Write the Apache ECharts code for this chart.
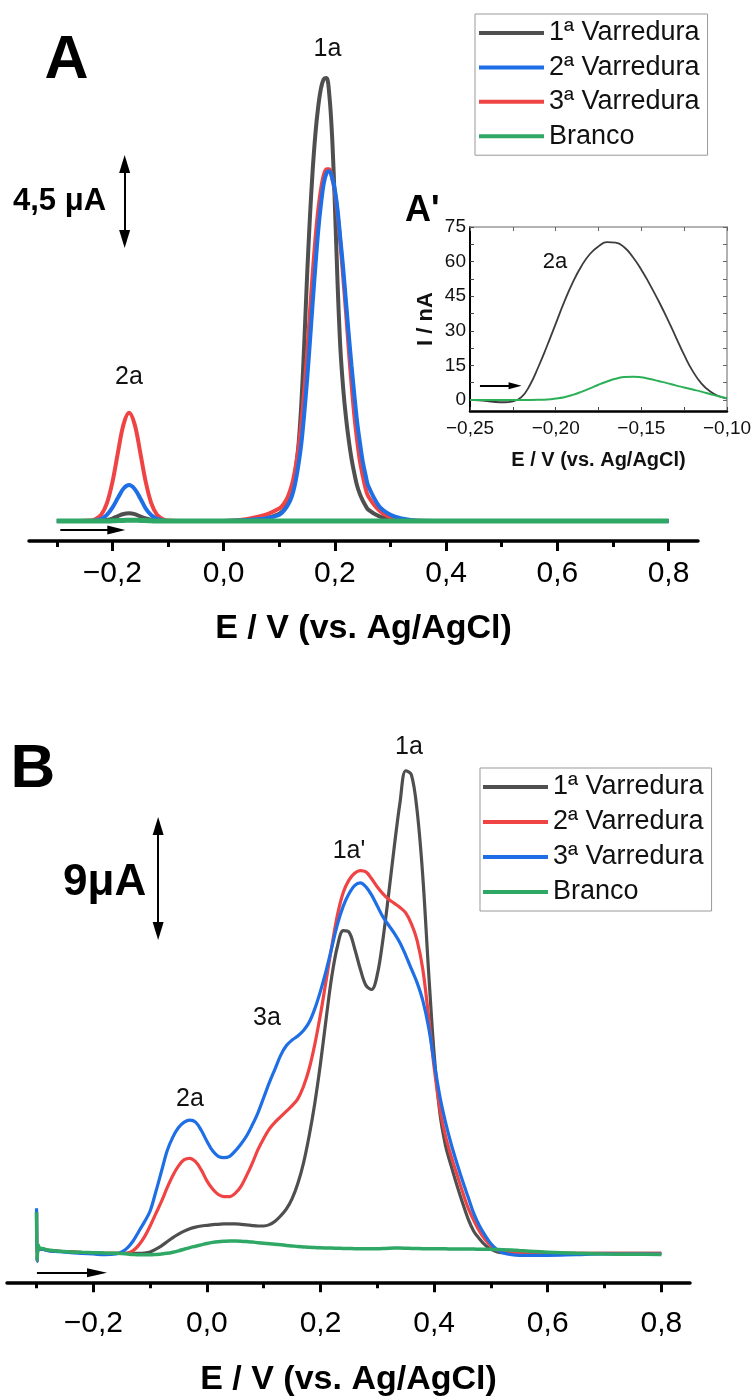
<!DOCTYPE html>
<html>
<head>
<meta charset="utf-8">
<script src="https://cdn.jsdelivr.net/npm/echarts@6/dist/echarts.min.js"></script>
<style>
html,body{margin:0;padding:0;background:#fff;}
#chart{width:756px;height:1398px;}
</style>
</head>
<body>
<div id="chart"></div>
<script>
// ---------------- DATA ----------------
// Panel A (current in uA, potential in V)
const xA = [-0.30,-0.28,-0.26,-0.24,
 -0.23,-0.22,-0.21,-0.20,-0.19,-0.18,-0.17,-0.16,-0.15,-0.14,-0.13,-0.12,-0.11,-0.10,
 -0.08,-0.05,0.00,0.03,0.06,0.08,
 0.100,0.105,0.110,0.115,0.120,0.125,0.130,0.135,0.140,0.145,0.150,0.155,0.160,0.165,0.170,0.175,0.180,
 0.185,0.190,0.195,0.200,0.205,0.210,0.215,0.220,0.225,0.230,0.235,0.240,0.245,0.250,0.255,0.260,
 0.28,0.30,0.32,0.34,0.36,0.40,0.50,0.60,0.70,0.80];
const scan1A = [0,0,0,0,
 0.01,0.02,0.05,0.12,0.24,0.34,0.37,0.33,0.22,0.12,0.05,0.02,0.01,0,
 0,0,0,0.02,0.06,0.15,
 0.35,0.45,0.6,0.85,1.2,1.75,2.6,3.8,5.8,8.6,11.8,14.6,16.9,18.7,20.0,20.9,21.35,
 21.4,20.6,18.6,15.3,11.4,8.3,6.4,5.0,3.9,3.0,2.3,1.7,1.3,1.0,0.75,0.55,
 0.22,0.09,0.03,0,0,0,0,0,0,0];
const scan2A = [0,0,0,0,
 0.03,0.1,0.3,0.65,1.12,1.57,1.74,1.55,1.1,0.6,0.28,0.1,0.03,0,
 0,0,0,0.02,0.08,0.15,
 0.3,0.4,0.55,0.75,1.0,1.4,2.0,2.8,3.8,5.2,6.8,8.6,10.5,12.3,14.0,15.3,16.3,
 16.8,16.9,16.6,16.0,15.0,13.6,12.2,10.6,9.0,7.5,6.1,4.8,3.8,2.9,2.25,1.7,
 0.7,0.3,0.12,0.04,0.01,0,0,0,0,0];
const scan3A = [0,0,0,0.02,
 0.1,0.31,0.85,1.88,3.32,4.67,5.23,4.67,3.32,1.88,0.85,0.31,0.1,0.02,
 0,0,0,0.05,0.2,0.35,
 0.6,0.72,0.9,1.15,1.5,2.0,2.7,3.6,4.8,6.3,8.0,10.0,11.9,13.6,15.0,16.0,16.7,
 17.0,17.0,16.6,15.9,14.8,13.4,11.8,10.1,8.3,6.6,5.1,3.9,2.9,2.2,1.6,1.2,
 0.5,0.18,0.06,0.02,0,0,0,0,0,0];
const blankA = [0,0,0,0,
 0,0,0,0.01,0.02,0.03,0.04,0.04,0.03,0.02,0.01,0,0,0,
 0,0,0,0,0,0,
 0,0,0,0,0,0,0,0,0,0,0,0,0,0,0,0,0,
 0,0,0,0,0,0,0,0,0,0,0,0,0,0,0,0,
 0,0,0,0,0,0,0,0,0,0];

// Inset A' (current in nA)
const xIn = [-0.250,-0.245,-0.240,-0.235,-0.230,-0.225,-0.220,-0.215,-0.210,-0.205,-0.200,-0.195,-0.190,-0.185,-0.180,-0.175,-0.170,-0.165,-0.160,-0.155,-0.150,-0.145,-0.140,-0.135,-0.130,-0.125,-0.120,-0.115,-0.110,-0.105,-0.100];
const scan1In = [0,-0.2,-0.5,-0.9,-1.0,-0.6,1.2,6.5,14.5,23.5,33,42.5,51,58,63.3,66.6,68.4,68.2,66.2,62,56.5,50,43,35.5,27.5,19.5,12.5,7.2,3.8,1.7,0.6];
const blankIn = [0,0,0,0,0,0,0,0,0.05,0.2,0.6,1.2,2.2,3.5,5.0,6.6,8.0,9.2,9.9,10.1,9.8,9.1,8.2,7.3,6.3,5.4,4.5,3.6,2.6,1.6,0.7];

// Panel B (current in uA)
const xB = [-0.300,-0.299,-0.297,-0.294,-0.29,-0.28,-0.26,-0.24,-0.22,-0.20,-0.18,-0.16,
 -0.15,-0.14,-0.13,-0.12,-0.11,-0.10,-0.09,-0.08,-0.07,-0.06,-0.05,-0.04,-0.03,-0.02,-0.01,
 0.00,0.01,0.02,0.03,0.04,0.05,0.06,0.07,0.08,0.09,0.10,0.11,0.12,0.13,0.14,0.15,0.16,0.17,0.18,0.19,
 0.20,0.21,0.22,0.23,0.24,0.25,0.26,0.27,0.28,0.29,0.30,0.31,0.32,0.33,0.34,0.35,0.36,0.37,0.38,0.39,
 0.40,0.41,0.42,0.43,0.44,0.45,0.46,0.47,0.48,0.49,0.50,0.51,0.52,
 0.55,0.60,0.65,0.70,0.75,0.80];
const scan1B = [3.0,-0.5,0.5,0.3,0.3,0.22,0.15,0.1,0.05,0.02,0,0,
 0,0,0,0,0.02,0.1,0.3,0.55,0.85,1.15,1.4,1.62,1.8,1.92,2.0,
 2.05,2.1,2.12,2.15,2.15,2.15,2.12,2.08,2.03,2.0,2.0,2.1,2.35,2.75,3.25,4.0,5.1,6.6,8.6,11.0,
 13.9,17.2,20.3,22.5,23.6,23.5,22.3,20.8,19.6,19.3,20.4,23.0,26.3,29.8,33.0,35.3,35.0,32.4,27.6,20.8,
 14.6,10.3,7.9,6.4,5.0,3.7,2.5,1.6,1.05,0.6,0.3,0.12,0.05,
 0,0,0,0,0,0];
const scan2B = [3.0,-0.6,0.5,0.3,0.3,0.22,0.15,0.1,0.05,0.02,0,0,
 0,0.02,0.2,0.6,1.2,2.0,2.9,3.8,4.8,5.7,6.4,6.85,6.95,6.7,6.1,
 5.3,4.7,4.3,4.15,4.15,4.4,4.9,5.7,6.6,7.6,8.4,9.1,9.6,10.0,10.4,10.8,11.3,12.2,13.5,15.3,
 17.5,20.0,22.5,24.8,26.4,27.3,27.8,28.0,27.9,27.4,26.8,26.3,25.9,25.6,25.3,24.9,24.1,22.9,20.8,17.4,
 13.6,10.6,8.6,7.1,5.8,4.5,3.3,2.4,1.6,1.0,0.55,0.25,0.1,
 0,0,0,0,0,0];
const scan3B = [3.3,-0.6,0.5,0.3,0.3,0.2,0.12,0.05,0,-0.05,-0.1,-0.05,
 0.1,0.4,0.9,1.6,2.3,3.1,4.5,6.0,7.5,8.5,9.2,9.6,9.75,9.6,9.0,
 8.2,7.5,7.1,7.0,7.1,7.5,8.0,8.6,9.4,10.3,11.4,12.5,13.5,14.5,15.2,15.6,15.9,16.3,16.9,17.9,
 19.2,20.7,22.4,24.1,25.4,26.3,26.9,27.1,26.8,26.2,25.4,24.6,24.0,23.4,22.7,21.8,20.8,19.8,18.5,16.6,
 14.0,11.5,9.6,8.0,6.6,5.3,4.1,2.9,2.0,1.3,0.7,0.3,0.05,
 -0.15,-0.15,-0.1,-0.05,-0.05,-0.05];
const blankB = [3.0,-0.5,0.6,0.35,0.35,0.24,0.15,0.1,0.07,0.05,0.02,0,
 -0.02,-0.05,-0.08,-0.1,-0.1,-0.1,-0.08,-0.05,0,0.08,0.18,0.3,0.42,0.52,0.62,
 0.72,0.8,0.85,0.88,0.9,0.9,0.89,0.86,0.82,0.78,0.74,0.7,0.66,0.62,0.58,0.54,0.5,0.47,0.44,0.42,
 0.4,0.39,0.38,0.37,0.36,0.35,0.34,0.33,0.33,0.33,0.34,0.35,0.37,0.38,0.38,0.37,0.36,0.35,0.34,0.34,
 0.33,0.33,0.33,0.32,0.32,0.32,0.31,0.31,0.3,0.3,0.29,0.28,0.27,
 0.2,0.08,0,-0.05,-0.07,-0.08];

// Tick values / labels
const xMajorTicks = [-0.2,0,0.2,0.4,0.6,0.8];
const xMinorTicks = [-0.3,-0.1,0.1,0.3,0.5,0.7];
const inXLabels = [-0.25,-0.2,-0.15,-0.1];
const inXTicks = [-0.25,-0.225,-0.2,-0.175,-0.15,-0.125,-0.1];
const inYLabels = [0,15,30,45,60,75];
const inYTicks = [0,7.5,15,22.5,30,37.5,45,52.5,60,67.5,75];

const seriesNames = ['1ª Varredura','2ª Varredura','3ª Varredura','Branco'];

// ---------------- CHECK ----------------
[[xA,scan1A,scan2A,scan3A,blankA],[xIn,scan1In,blankIn],[xB,scan1B,scan2B,scan3B,blankB]].forEach(g=>{
  g.forEach(a=>{ if(a.length!==g[0].length) throw new Error('length mismatch '+a.length+' vs '+g[0].length); });
});

// ---------------- STYLE ----------------
const C_BLACK = '#4f4f4f', C_BLUE = '#1e6fe6', C_RED = '#f04444', C_GREEN = '#2fa866';
const FONT = '"Liberation Sans", Arial, sans-serif';
const fmt1 = v => (v < 0 ? '\u2212' : '') + Math.abs(v).toFixed(1).replace('.', ',');
const fmt2 = v => (v < 0 ? '\u2212' : '') + Math.abs(v).toFixed(2).replace('.', ',');
const pairs = (xs, ys) => xs.map((x, i) => [x, ys[i]]);

function mainX(grid, min, max, margin, gap) {
  return {
    gridIndex: grid, type: 'value', min: min, max: max, position: 'bottom',
    axisLine: {show: true, onZero: false, lineStyle: {color: '#000', width: 3.5}},
    axisTick: {show: true, inside: false, length: 10, customValues: xMajorTicks, lineStyle: {color: '#000', width: 3}},
    axisLabel: {show: true, customValues: xMajorTicks, formatter: fmt1, fontSize: 30, color: '#000', margin: margin, fontFamily: FONT},
    splitLine: {show: false},
    name: 'E / V (vs. Ag/AgCl)', nameLocation: 'middle', nameGap: gap,
    nameTextStyle: {fontSize: 34, fontWeight: 'bold', color: '#000', fontFamily: FONT}
  };
}
function minorX(grid, min, max) {
  return {
    gridIndex: grid, type: 'value', min: min, max: max, position: 'bottom',
    axisLine: {show: false, onZero: false},
    axisTick: {show: true, inside: false, length: 6, customValues: xMinorTicks, lineStyle: {color: '#000', width: 3}},
    axisLabel: {show: false}, splitLine: {show: false}
  };
}
const arrowLine = {lineStyle: {color: '#000', width: 2, type: 'solid'}};
const legendBase = {
  orient: 'vertical', icon: 'rect', itemWidth: 65, itemHeight: 4, borderColor: '#999', borderWidth: 1,
  selectedMode: false, textStyle: {fontSize: 27, lineHeight: 30, color: '#111'}
};

const option = {
  animation: false,
  backgroundColor: '#fff',
  textStyle: {fontFamily: FONT},
  grid: [
    {left: 29, right: 58, top: 40, bottom: 857, outerBoundsMode: 'none'},
    {left: 470, right: 29, top: 227, bottom: 987, outerBoundsMode: 'none'},
    {left: 7, right: 66, top: 740, bottom: 115.7, outerBoundsMode: 'none'}
  ],
  xAxis: [
    mainX(0, -0.35, 0.853, 18, 71),
    minorX(0, -0.35, 0.853),
    {
      gridIndex: 1, type: 'value', min: -0.25, max: -0.10, interval: 0.05, position: 'bottom',
      axisLine: {show: true, onZero: false, lineStyle: {color: '#000', width: 2.5}},
      axisTick: {show: true, inside: true, length: 4, customValues: inXTicks, lineStyle: {color: '#444', width: 1}},
      axisLabel: {show: true, customValues: inXLabels, formatter: fmt2, fontSize: 19, color: '#111', margin: 8},
      splitLine: {show: false},
      name: 'E / V (vs. Ag/AgCl)', nameLocation: 'middle', nameGap: 39,
      nameTextStyle: {fontSize: 20, fontWeight: 'bold', color: '#111'}
    },
    {
      gridIndex: 1, type: 'value', min: -0.25, max: -0.10, position: 'top',
      axisLine: {show: true, onZero: false, lineStyle: {color: '#999', width: 1.5}},
      axisTick: {show: true, inside: true, length: 4, customValues: inXTicks, lineStyle: {color: '#666', width: 1}},
      axisLabel: {show: false}, splitLine: {show: false}
    },
    mainX(2, -0.352, 0.8505, 26, 80),
    minorX(2, -0.352, 0.8505)
  ],
  yAxis: [
    {gridIndex: 0, type: 'value', min: -0.966, max: 23.24, show: false, splitLine: {show: false}},
    {
      gridIndex: 1, type: 'value', min: -4.8, max: 75, position: 'left',
      axisLine: {show: true, onZero: false, lineStyle: {color: '#000', width: 2}},
      axisTick: {show: true, inside: true, length: 4, customValues: inYTicks, lineStyle: {color: '#444', width: 1}},
      axisLabel: {show: true, customValues: inYLabels, fontSize: 19, color: '#111', margin: 4},
      splitLine: {show: false},
      name: 'I / nA', nameLocation: 'middle', nameGap: 33,
      nameTextStyle: {fontSize: 22, fontWeight: 'bold', color: '#111'}
    },
    {
      gridIndex: 1, type: 'value', min: -4.8, max: 75, position: 'right',
      axisLine: {show: true, onZero: false, lineStyle: {color: '#999', width: 1.5}},
      axisTick: {show: true, inside: true, length: 4, customValues: inYTicks, lineStyle: {color: '#666', width: 1}},
      axisLabel: {show: false}, splitLine: {show: false}
    },
    {gridIndex: 2, type: 'value', min: -2.12, max: 37.55, show: false, splitLine: {show: false}}
  ],
  legend: [
    Object.assign({}, legendBase, {
      left: 475, top: 14, itemGap: 4.4, padding: [4, 8, 4, 4],
      data: [
        {name: seriesNames[0], itemStyle: {color: C_BLACK}},
        {name: seriesNames[1], itemStyle: {color: C_BLUE}},
        {name: seriesNames[2], itemStyle: {color: C_RED}},
        {name: seriesNames[3], itemStyle: {color: C_GREEN}}
      ]
    }),
    Object.assign({}, legendBase, {
      left: 480, top: 768, itemGap: 5, padding: [4, 8, 4, 3],
      data: [
        {name: seriesNames[0], itemStyle: {color: C_BLACK}},
        {name: seriesNames[1], itemStyle: {color: C_RED}},
        {name: seriesNames[2], itemStyle: {color: C_BLUE}},
        {name: seriesNames[3], itemStyle: {color: C_GREEN}}
      ]
    })
  ],
  series: [
    // Panel A
    {name: seriesNames[0], type: 'line', xAxisIndex: 0, yAxisIndex: 0, data: pairs(xA, scan1A), showSymbol: false, smooth: 0.35, lineStyle: {color: C_BLACK, width: 4}, itemStyle: {color: C_BLACK}},
    {name: seriesNames[2], type: 'line', xAxisIndex: 0, yAxisIndex: 0, data: pairs(xA, scan3A), showSymbol: false, smooth: 0.35, lineStyle: {color: C_RED, width: 4}, itemStyle: {color: C_RED}},
    {name: seriesNames[1], type: 'line', xAxisIndex: 0, yAxisIndex: 0, data: pairs(xA, scan2A), showSymbol: false, smooth: 0.35, lineStyle: {color: C_BLUE, width: 4}, itemStyle: {color: C_BLUE}},
    {name: seriesNames[3], type: 'line', xAxisIndex: 0, yAxisIndex: 0, data: pairs(xA, blankA), showSymbol: false, smooth: 0.35, lineStyle: {color: C_GREEN, width: 5}, itemStyle: {color: C_GREEN},
      markLine: {silent: true, symbol: ['none', 'none'], label: {show: false}, emphasis: {disabled: true}, ...arrowLine,
        data: [
          [{coord: [-0.178, 13.62], symbol: 'triangle', symbolSize: [11, 18]}, {coord: [-0.178, 17.25], symbol: 'triangle', symbolSize: [11, 18]}],
          [{coord: [-0.2937, -0.435], symbol: 'none'}, {coord: [-0.193, -0.435], symbol: 'triangle', symbolSize: [9, 18]}]
        ]}},
    // Inset A'
    {name: '1ª Varredura (A\u2032)', type: 'line', xAxisIndex: 2, yAxisIndex: 1, data: pairs(xIn, scan1In), showSymbol: false, smooth: 0.5, lineStyle: {color: '#3c3c3c', width: 1.8}, itemStyle: {color: '#3c3c3c'}},
    {name: 'Branco (A\u2032)', type: 'line', xAxisIndex: 2, yAxisIndex: 1, data: pairs(xIn, blankIn), showSymbol: false, smooth: 0.5, lineStyle: {color: '#2bb057', width: 2}, itemStyle: {color: '#2bb057'},
      markLine: {silent: true, symbol: ['none', 'none'], label: {show: false}, emphasis: {disabled: true}, ...arrowLine,
        data: [
          [{coord: [-0.2442, 6.2], symbol: 'none'}, {coord: [-0.2237, 6.2], symbol: 'triangle', symbolSize: [7, 13]}]
        ]}},
    // Panel B
    {name: seriesNames[0], type: 'line', xAxisIndex: 4, yAxisIndex: 3, data: pairs(xB, scan1B), showSymbol: false, smooth: 0.35, lineStyle: {color: C_BLACK, width: 3.2}, itemStyle: {color: C_BLACK}},
    {name: seriesNames[1], type: 'line', xAxisIndex: 4, yAxisIndex: 3, data: pairs(xB, scan2B), showSymbol: false, smooth: 0.35, lineStyle: {color: C_RED, width: 3.2}, itemStyle: {color: C_RED}},
    {name: seriesNames[2], type: 'line', xAxisIndex: 4, yAxisIndex: 3, data: pairs(xB, scan3B), showSymbol: false, smooth: 0.35, lineStyle: {color: C_BLUE, width: 3.2}, itemStyle: {color: C_BLUE}},
    {name: seriesNames[3], type: 'line', xAxisIndex: 4, yAxisIndex: 3, data: pairs(xB, blankB), showSymbol: false, smooth: 0.35, lineStyle: {color: C_GREEN, width: 3.5}, itemStyle: {color: C_GREEN},
      markLine: {silent: true, symbol: ['none', 'none'], label: {show: false}, emphasis: {disabled: true}, ...arrowLine,
        data: [
          [{coord: [-0.0859, 23.58], symbol: 'triangle', symbolSize: [11, 18]}, {coord: [-0.0859, 31.26], symbol: 'triangle', symbolSize: [11, 18]}],
          [{coord: [-0.2993, -1.42], symbol: 'none'}, {coord: [-0.1935, -1.42], symbol: 'triangle', symbolSize: [9, 20]}]
        ]}}
  ],
  graphic: [
    {type: 'text', x: 66.5, y: 61, style: {text: 'A', font: 'bold 61px ' + FONT, fill: '#000', align: 'center', verticalAlign: 'middle', textAlign: 'center', textVerticalAlign: 'middle'}},
    {type: 'text', x: 13, y: 201, style: {text: '4,5 \u03bcA', font: 'bold 31px ' + FONT, fill: '#000', align: 'left', verticalAlign: 'middle', textAlign: 'left', textVerticalAlign: 'middle'}},
    {type: 'text', x: 327.5, y: 49, style: {text: '1a', font: '25px ' + FONT, fill: '#111', align: 'center', verticalAlign: 'middle', textAlign: 'center', textVerticalAlign: 'middle'}},
    {type: 'text', x: 129, y: 377, style: {text: '2a', font: '25px ' + FONT, fill: '#111', align: 'center', verticalAlign: 'middle', textAlign: 'center', textVerticalAlign: 'middle'}},
    {type: 'text', x: 405, y: 211, style: {text: "A'", font: 'bold 36px ' + FONT, fill: '#000', align: 'left', verticalAlign: 'middle', textAlign: 'left', textVerticalAlign: 'middle'}},
    {type: 'text', x: 555, y: 262, style: {text: '2a', font: '22px ' + FONT, fill: '#111', align: 'center', verticalAlign: 'middle', textAlign: 'center', textVerticalAlign: 'middle'}},
    {type: 'text', x: 33, y: 770, style: {text: 'B', font: 'bold 62px ' + FONT, fill: '#000', align: 'center', verticalAlign: 'middle', textAlign: 'center', textVerticalAlign: 'middle'}},
    {type: 'text', x: 63, y: 883, style: {text: '9\u03bcA', font: 'bold 44px ' + FONT, fill: '#000', align: 'left', verticalAlign: 'middle', textAlign: 'left', textVerticalAlign: 'middle'}},
    {type: 'text', x: 409, y: 747, style: {text: '1a', font: '25px ' + FONT, fill: '#111', align: 'center', verticalAlign: 'middle', textAlign: 'center', textVerticalAlign: 'middle'}},
    {type: 'text', x: 349, y: 851, style: {text: "1a'", font: '25px ' + FONT, fill: '#111', align: 'center', verticalAlign: 'middle', textAlign: 'center', textVerticalAlign: 'middle'}},
    {type: 'text', x: 267, y: 1018, style: {text: '3a', font: '25px ' + FONT, fill: '#111', align: 'center', verticalAlign: 'middle', textAlign: 'center', textVerticalAlign: 'middle'}},
    {type: 'text', x: 190, y: 1099, style: {text: '2a', font: '25px ' + FONT, fill: '#111', align: 'center', verticalAlign: 'middle', textAlign: 'center', textVerticalAlign: 'middle'}}
  ]
};

const chart = echarts.init(document.getElementById('chart'), null, {renderer: 'canvas'});
chart.setOption(option);
</script>
</body>
</html>
